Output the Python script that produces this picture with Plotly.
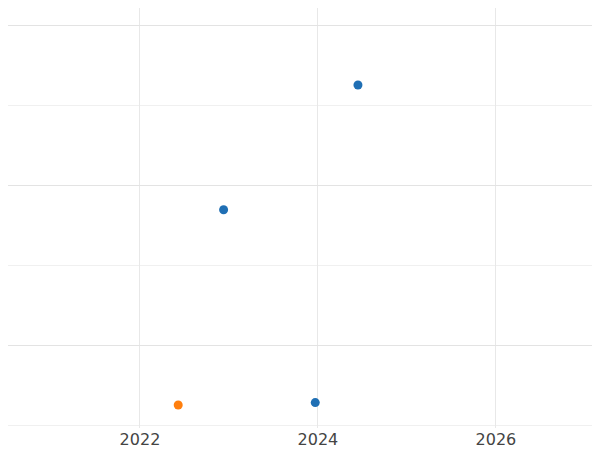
import plotly.graph_objects as go

blue_x = [2024.45, 2022.94, 2023.97]
blue_y = [3.25, 1.69, -0.72]
orange_x = [2022.43]
orange_y = [-0.75]

fig = go.Figure()
fig.add_trace(go.Scatter(x=blue_x, y=blue_y, mode="markers", marker=dict(color="#1f6fb4", size=9), name="A"))
fig.add_trace(go.Scatter(x=orange_x, y=orange_y, mode="markers", marker=dict(color="#ff7f0e", size=9), name="B"))
fig.update_layout(
    width=600, height=450, showlegend=False,
    plot_bgcolor="white", paper_bgcolor="white",
    margin=dict(l=0, r=0, t=0, b=30),
    font=dict(family="DejaVu Sans", size=16, color="#444"),
)
fig.update_xaxes(range=[2020.517, 2027.26], tick0=2022, dtick=2, showgrid=True, gridcolor="#e8e8e8",
                 zeroline=False, showline=False, ticks="")
fig.update_yaxes(range=[-1.0375, 4.2125], tick0=0, dtick=2, showgrid=True, gridcolor="#e3e3e3",
                 minor=dict(dtick=1, showgrid=True, gridcolor="#f0f0f0"),
                 showticklabels=False, zeroline=False, showline=False)
fig.write_html("out.html")
